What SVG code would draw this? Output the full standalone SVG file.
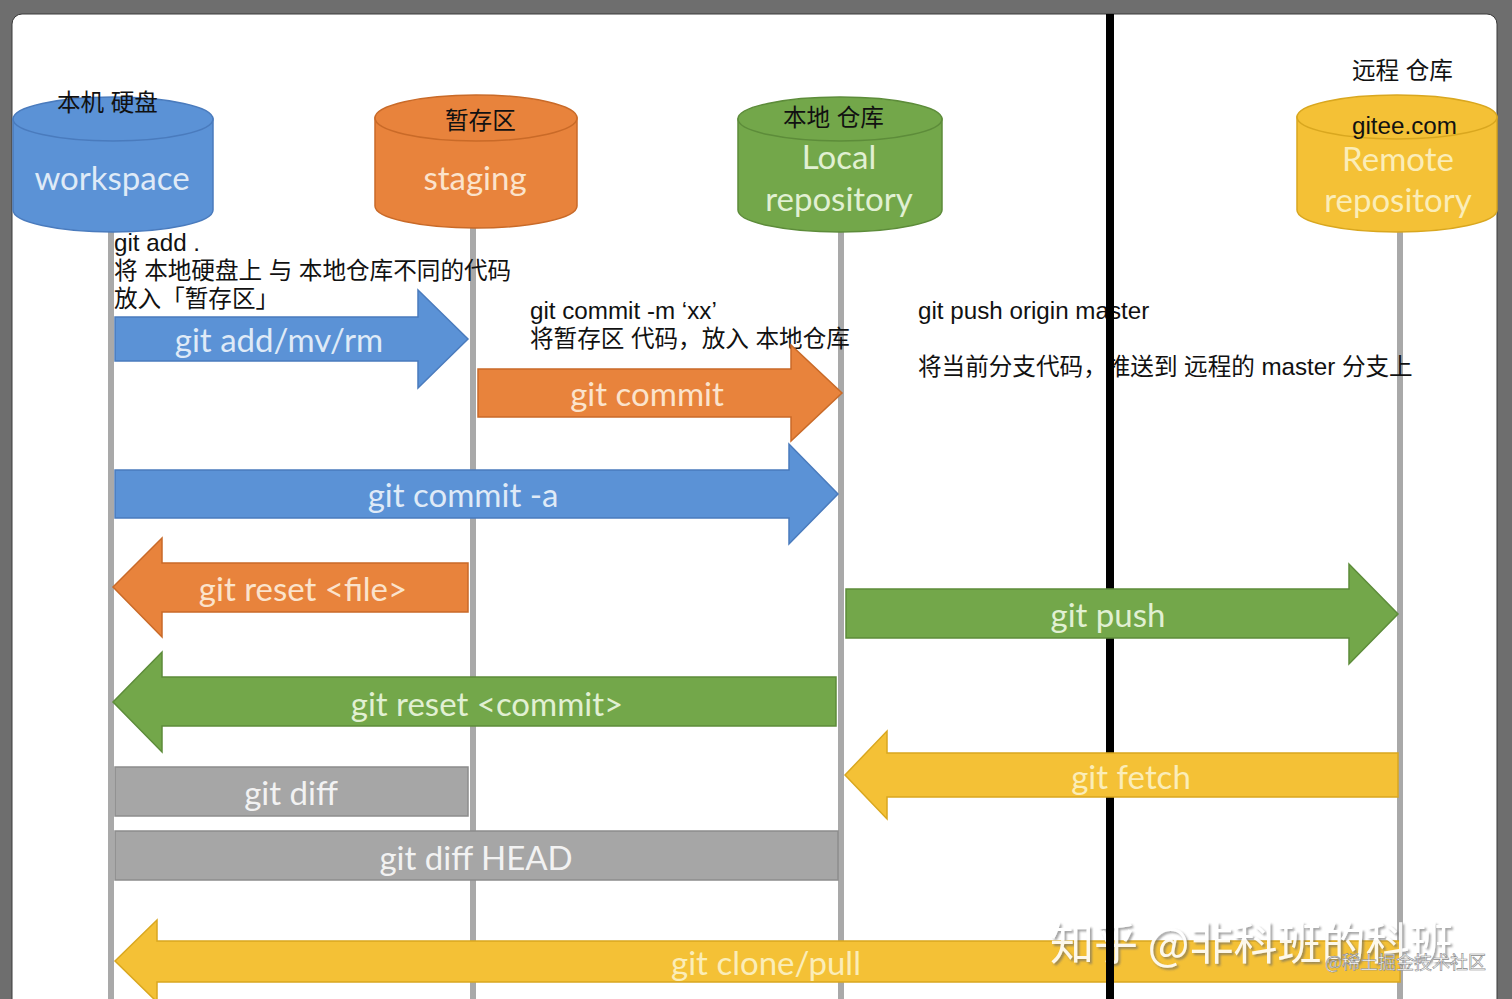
<svg xmlns="http://www.w3.org/2000/svg" width="1512" height="999" viewBox="0 0 1512 999">
<defs>
<style>
.lane{stroke:#a9a9a9;stroke-width:6;fill:none}
.lbl{font-family:Lato,"Open Sans",sans-serif;font-size:33px;text-anchor:middle;dominant-baseline:central}
.ann{font-family:"Liberation Sans","Noto Sans CJK SC",sans-serif;font-size:23.6px;fill:#111}
.lat{font-size:24.2px}
.blue{fill:#5b92d6;stroke:#4a7bbd;stroke-width:1.5}
.orange{fill:#e8833c;stroke:#c96a28;stroke-width:1.5}
.green{fill:#73a74a;stroke:#5d8c3a;stroke-width:1.5}
.yellow{fill:#f4c136;stroke:#d9a71f;stroke-width:1.5}
.gray{fill:#a6a6a6;stroke:#8c8c8c;stroke-width:1.5}
</style>
<filter id="shadow" x="-5%" y="-20%" width="110%" height="140%">
<feDropShadow dx="2" dy="2" stdDeviation="1" flood-color="#666666" flood-opacity="0.7"/>
</filter>
</defs>
<rect x="0" y="0" width="1512" height="999" fill="#6e6e6e"/>
<rect x="12" y="14" width="1485" height="1000" rx="10" fill="#ffffff" stroke="#3a3a3a" stroke-width="1"/>

<g id="lanes">
<line class="lane" x1="111" y1="225" x2="111" y2="999"/>
<line class="lane" x1="473" y1="225" x2="473" y2="999"/>
<line class="lane" x1="841" y1="228" x2="841" y2="999"/>
<line class="lane" x1="1400" y1="228" x2="1400" y2="999"/>
</g>

<g id="workspace">
<path class="blue" d="M13,119 L13,210 A100,22 0 0 0 213,210 L213,119 Z"/>
<ellipse class="blue" cx="113" cy="119" rx="100" ry="22"/>
<text class="lbl" x="112" y="177" fill="#dfeaf7">workspace</text>
</g>

<g id="staging">
<path class="orange" d="M375,118 L375,206 A101,22 0 0 0 577,206 L577,118 Z"/>
<ellipse class="orange" cx="476" cy="118" rx="101" ry="23"/>
<text class="lbl" x="475" y="177" fill="#fbe3cc">staging</text>
</g>

<g id="local">
<path class="green" d="M738,119 L738,210 A102,22 0 0 0 942,210 L942,119 Z"/>
<ellipse class="green" cx="840" cy="119" rx="102" ry="22"/>
<text class="lbl" x="839" y="156" fill="#e1f0d3">Local</text>
<text class="lbl" x="839" y="198" fill="#e1f0d3">repository</text>
</g>

<g id="remote">
<path class="yellow" d="M1297,117 L1297,210 A100,22 0 0 0 1497,210 L1497,117 Z"/>
<ellipse class="yellow" cx="1397" cy="117" rx="100" ry="22"/>
<text class="lbl" x="1398" y="158" fill="#fbedb8">Remote</text>
<text class="lbl" x="1398" y="199" fill="#fbedb8">repository</text>
</g>

<g id="connectors-under">
<g id="clone-pull">
<polygon class="yellow" points="115,961 157,920 157,941 1400,941 1400,982 157,982 157,1002"/>
<text class="lbl" x="766" y="962" fill="#fbedb8">git clone/pull</text>
</g>
</g>

<g id="annotations">
<text class="ann" x="57" y="111">本机 硬盘</text>
<text class="ann" x="445" y="129">暂存区</text>
<text class="ann" x="783" y="126">本地 仓库</text>
<text class="ann" x="1352" y="79">远程 仓库</text>
<text class="ann lat" x="1352" y="134">gitee.com</text>
<text class="ann lat" x="114" y="251">git add .</text>
<text class="ann" x="114" y="279">将 本地硬盘上 与 本地仓库不同的代码</text>
<text class="ann" x="114" y="307">放入「暂存区」</text>
<text class="ann lat" x="530" y="319">git commit -m ‘xx’</text>
<text class="ann" x="530" y="347">将暂存区 代码，放入 本地仓库</text>
<text class="ann lat" x="918" y="319">git push origin master</text>
<text class="ann" x="918" y="375">将当前分支代码，推送到 远程的 <tspan class="lat">master</tspan> 分支上</text>
</g>

<g id="watermark">
<text x="1050" y="960" font-family="'Noto Sans CJK SC',sans-serif" font-size="44" fill="#ffffff" opacity="0.9" filter="url(#shadow)">知乎 @非科班的科班</text>
<text x="1325" y="969" font-family="'Noto Sans CJK SC',sans-serif" font-size="18" fill="#ffffff" stroke="#888" stroke-width="0.6">@稀土掘金技术社区</text>
</g>

<rect id="divider" x="1106" y="14" width="8" height="985" fill="#000000"/>

<g id="connectors">
<g id="add">
<polygon class="blue" points="115,317 418,317 418,290 468,339 418,388 418,361 115,361"/>
<text class="lbl" x="279" y="339" fill="#dfeaf7">git add/mv/rm</text>
</g>
<g id="commit">
<polygon class="orange" points="478,369 791,369 791,345 842,393 791,441 791,417 478,417"/>
<text class="lbl" x="647" y="393" fill="#fbe3cc">git commit</text>
</g>
<g id="commit-a">
<polygon class="blue" points="115,470 789,470 789,444 838,494 789,544 789,518 115,518"/>
<text class="lbl" x="463" y="494" fill="#dfeaf7">git commit -a</text>
</g>
<g id="reset-file">
<polygon class="orange" points="113,587 162,538 162,563 468,563 468,612 162,612 162,637"/>
<text class="lbl" x="303" y="588" fill="#fbe3cc">git reset &lt;file&gt;</text>
</g>
<g id="push">
<polygon class="green" points="846,589 1349,589 1349,564 1398,614 1349,664 1349,638 846,638"/>
<text class="lbl" x="1108" y="614" fill="#e1f0d3">git push</text>
</g>
<g id="reset-commit">
<polygon class="green" points="113,702 162,652 162,677 836,677 836,726 162,726 162,752"/>
<text class="lbl" x="487" y="703" fill="#e1f0d3">git reset &lt;commit&gt;</text>
</g>
<g id="fetch">
<polygon class="yellow" points="845,775 887,731 887,753 1398,753 1398,797 887,797 887,819"/>
<text class="lbl" x="1131" y="776" fill="#fbedb8">git fetch</text>
</g>
<g id="diff">
<rect class="gray" x="115" y="767" width="353" height="49"/>
<text class="lbl" x="291" y="792" fill="#f2f2f2">git diff</text>
</g>
<g id="diff-head">
<rect class="gray" x="115" y="831" width="723" height="49"/>
<text class="lbl" x="476" y="857" fill="#f2f2f2">git diff HEAD</text>
</g>
</g>
</svg>
